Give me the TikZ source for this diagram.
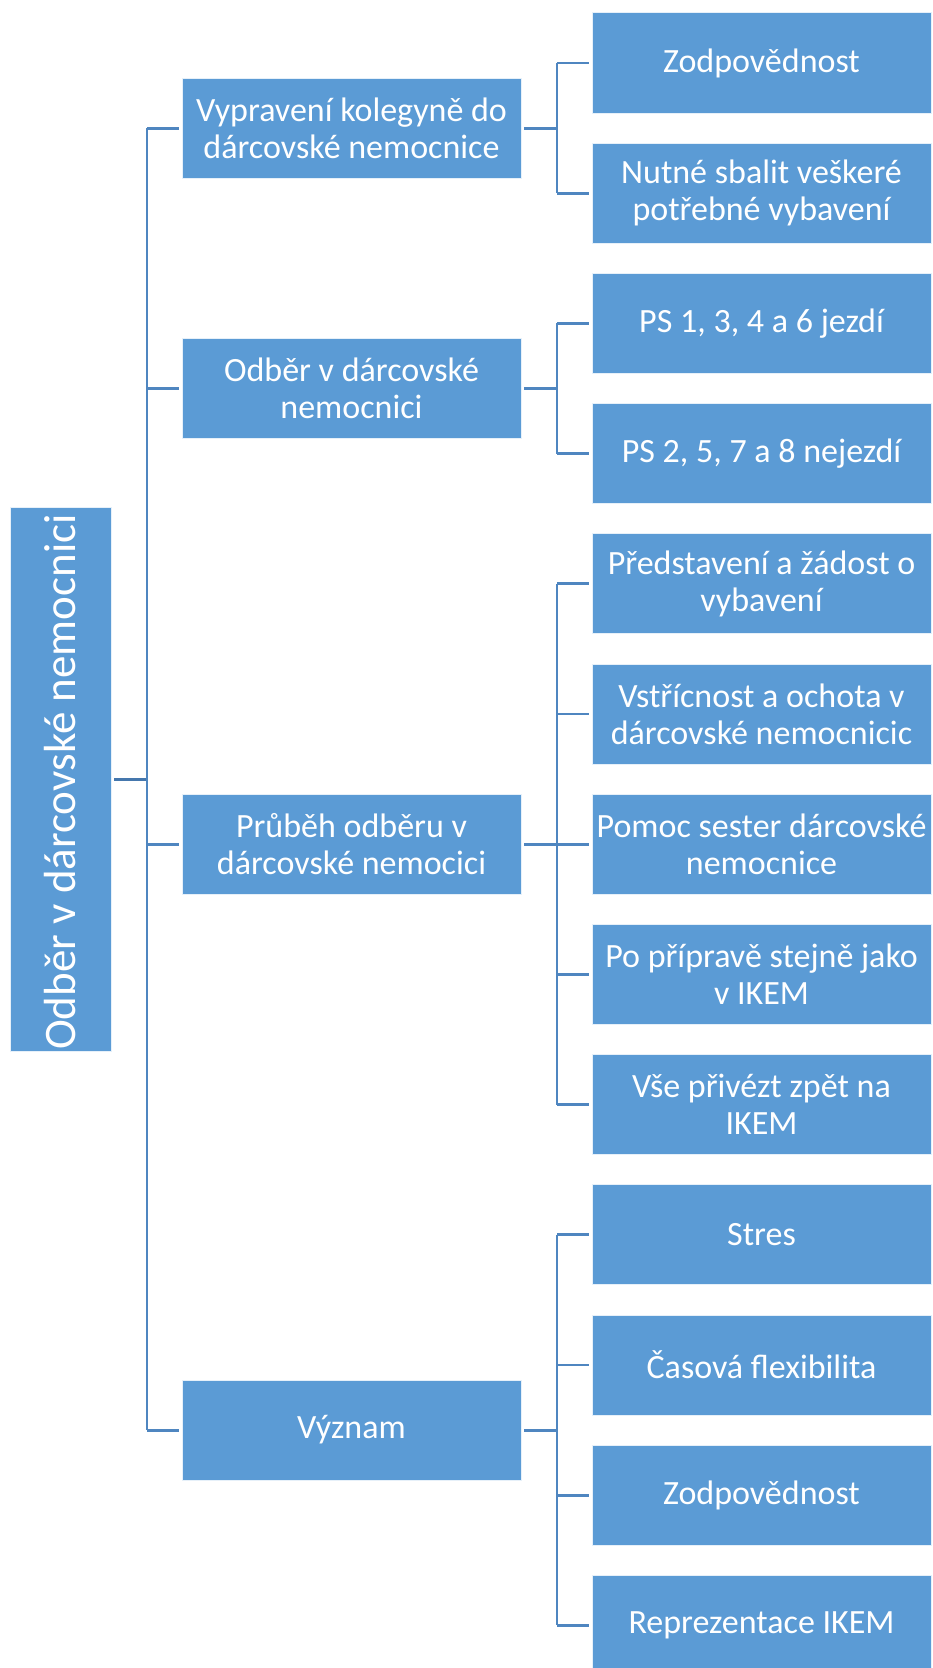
\documentclass[tikz,border=0pt]{standalone}
\usepackage{fontspec}
\setmainfont{Carlito}
\definecolor{boxfill}{HTML}{5B9BD5}
\definecolor{linkline}{HTML}{4F86C0}
\definecolor{rootline}{HTML}{4577AD}
\tikzset{
  card/.style={rectangle, fill=boxfill, draw=white!85!boxfill, line width=1bp,
    minimum width=339bp, minimum height=100bp, inner sep=0pt,
    text=white, align=center, font=\fontsize{34bp}{37bp}\selectfont},
  rootcard/.style={rectangle, fill=boxfill, draw=white!85!boxfill, line width=1bp,
    minimum width=100.5bp, minimum height=544bp, inner sep=0pt},
  roottext/.style={text=white, inner sep=0pt, rotate=90,
    font=\fontsize{45bp}{49bp}\selectfont},
  link/.style={draw=linkline, line width=2.8bp},
  rootlink/.style={draw=rootline, line width=3bp},
}
\begin{document}
\begin{tikzpicture}[x=1bp, y=-1bp]
\useasboundingbox (0,0) rectangle (932,1668);
\fill[white] (0,0) rectangle (932,1668);
\clip (0,0) rectangle (932,1668);

% root
\node[rootcard] (root) at (60.75,779) {};
\node[roottext] (roottxt) at ([xshift=-1bp,yshift=-3bp]root.center) {Odběr v dárcovské nemocnici};

% first level
\node[card] (a) at (351.5,128.1) {Vypravení kolegyně do\\dárcovské nemocnice};
\node[card] (b) at (351.5,388.5) {Odběr v dárcovské\\nemocnici};
\node[card] (c) at (351.5,844.2) {Průběh odběru v\\dárcovské nemocici};
\node[card] (d) at (351.5,1430.1) {Význam};

% second level
\node[card] (a1) at (761.5,63.0)   {Zodpovědnost};
\node[card] (a2) at (761.5,193.2)  {Nutné sbalit veškeré\\potřebné vybavení};
\node[card] (b1) at (761.5,323.4)  {PS 1, 3, 4 a 6 jezdí};
\node[card] (b2) at (761.5,453.6)  {PS 2, 5, 7 a 8 nejezdí};
\node[card] (c1) at (761.5,583.8)  {Představení a žádost o\\vybavení};
\node[card] (c2) at (761.5,714.0)  {Vstřícnost a ochota v\\dárcovské nemocnicic};
\node[card] (c3) at (761.5,844.2)  {Pomoc sester dárcovské\\nemocnice};
\node[card] (c4) at (761.5,974.4)  {Po přípravě stejně jako\\v IKEM};
\node[card] (c5) at (761.5,1104.6) {Vše přivézt zpět na\\IKEM};
\node[card] (d1) at (761.5,1234.8) {Stres};
\node[card] (d2) at (761.5,1365.0) {Časová flexibilita};
\node[card] (d3) at (761.5,1495.2) {Zodpovědnost};
\node[card] (d4) at (761.5,1625.4) {Reprezentace IKEM};

% trunk positions
\coordinate (t0) at (147,0);
\coordinate (t1) at (557,0);

% root to first level
\draw[rootlink, shorten <=2.5bp] (root.east) -- (root.east -| t0);
\draw[link] (a.west -| t0) -- (d.west -| t0);
\foreach \n in {a,b,c,d}
  \draw[link, shorten >=2.5bp] (\n.west -| t0) -- (\n.west);

% first level to second level
\foreach \p/\first/\last/\kids in {a/a1/a2/{a1,a2}, b/b1/b2/{b1,b2}, c/c1/c5/{c1,c2,c3,c4,c5}, d/d1/d4/{d1,d2,d3,d4}} {
  \draw[link, shorten <=2.5bp] (\p.east) -- (\p.east -| t1);
  \draw[link] (\first.west -| t1) -- (\last.west -| t1);
  \foreach \k in \kids
    \draw[link, shorten >=2.5bp] (\k.west -| t1) -- (\k.west);
}
\end{tikzpicture}
\end{document}
